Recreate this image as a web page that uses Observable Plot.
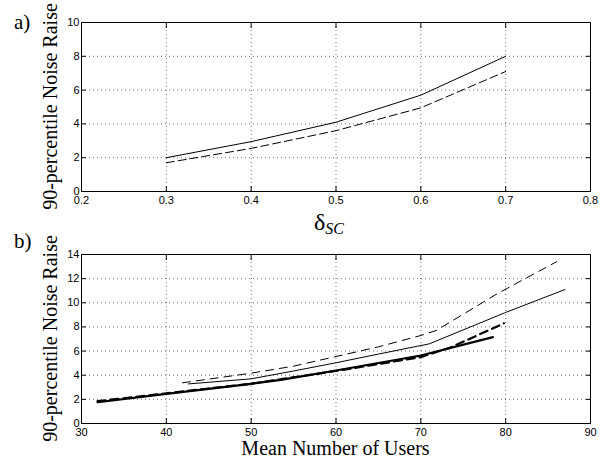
<!DOCTYPE html>
<html>
<head>
<meta charset="utf-8">
<script src="https://cdn.jsdelivr.net/npm/d3@7"></script>
<script src="https://cdn.jsdelivr.net/npm/@observablehq/plot@0.6"></script>
<style>
  body { margin: 0; background: white; }
  #wrap { position: relative; width: 610px; height: 463px; background: white; }
  #wrap svg { position: absolute; left: 0; overflow: visible; background: transparent; }
</style>
</head>
<body>
<div id="wrap"></div>
<script>
// ---- Panel a data ----
const deltaSC = [0.3, 0.4, 0.5, 0.6, 0.7];
const solidA = [2.0, 2.95, 4.1, 5.7, 8.0];
const dashedA = [1.7, 2.55, 3.6, 4.95, 7.1];
const xTicksA = [0.2, 0.3, 0.4, 0.5, 0.6, 0.7, 0.8];
const yTicksA = [0, 2, 4, 6, 8, 10];

// ---- Panel b data ----
const thinDashedUsers = [41.9, 50, 55, 60, 65, 70, 71.8, 79, 86];
const thinDashedRaise = [3.37, 4.17, 4.75, 5.55, 6.35, 7.29, 7.7, 10.75, 13.4];
const thinSolidUsers = [42.6, 50, 55, 60, 65, 71, 80, 87];
const thinSolidRaise = [3.28, 3.7, 4.35, 5.03, 5.75, 6.6, 9.2, 11.1];
const thickSolidUsers = [31.9, 40, 50, 53.5, 60, 70, 78.5];
const thickSolidRaise = [1.76, 2.46, 3.29, 3.62, 4.39, 5.63, 7.15];
const thickDashedUsers = [31.9, 40, 50, 60, 70, 73.5, 79.8];
const thickDashedRaise = [1.85, 2.5, 3.3, 4.35, 5.5, 6.3, 8.3];
const xTicksB = [30, 40, 50, 60, 70, 80, 90];
const yTicksB = [0, 2, 4, 6, 8, 10, 12, 14];

const yLabel = "90-percentile Noise Raise";
const xLabelB = "Mean Number of Users";

const pairs = (xs, ys) => xs.map((x, i) => ({x, y: ys[i]}));

const tickFont = "Liberation Sans, Arial, sans-serif";
const serif = "Liberation Serif, Times New Roman, serif";

function frameMarks(xt, yt, xfmt) {
  return [
    Plot.gridX(xt, {stroke: "#000", strokeOpacity: 0.55, strokeDasharray: "1,3"}),
    Plot.gridY(yt, {stroke: "#000", strokeOpacity: 0.55, strokeDasharray: "1,3"}),
    // labels
    Plot.axisX(xt, {anchor: "bottom", tickSize: 0, tickPadding: 5, tickFormat: xfmt, label: null, fontSize: 11, fontFamily: tickFont}),
    Plot.axisY(yt, {anchor: "left", tickSize: 0, tickPadding: 2, label: null, fontSize: 11, fontFamily: tickFont}),
    // inward ticks on all four sides
    Plot.axisX(xt, {anchor: "bottom", tickSize: 5, dy: -5, tickFormat: () => "", label: null}),
    Plot.axisX(xt, {anchor: "top", tickSize: 5, dy: 5, tickFormat: () => "", label: null}),
    Plot.axisY(yt, {anchor: "left", tickSize: 5, dx: 5, tickFormat: () => "", label: null}),
    Plot.axisY(yt, {anchor: "right", tickSize: 5, dx: -5, tickFormat: () => "", label: null}),
    Plot.frame({stroke: "#000", strokeWidth: 1})
  ];
}

const plotA = Plot.plot({
  width: 610, height: 230,
  marginLeft: 81, marginRight: 20, marginTop: 22, marginBottom: 39,
  x: {domain: [0.2, 0.8]},
  y: {domain: [0, 10]},
  style: {overflow: "visible", background: "transparent"},
  marks: [
    ...frameMarks(xTicksA, yTicksA, d3.format(".1f")),
    Plot.line(pairs(deltaSC, solidA), {x: "x", y: "y", stroke: "#000", strokeWidth: 1}),
    Plot.line(pairs(deltaSC, dashedA), {x: "x", y: "y", stroke: "#000", strokeWidth: 1, strokeDasharray: "8,4"})
  ]
});

const plotB = Plot.plot({
  width: 610, height: 233,
  marginLeft: 81, marginRight: 20, marginTop: 24, marginBottom: 40,
  x: {domain: [30, 90]},
  y: {domain: [0, 14]},
  style: {overflow: "visible", background: "transparent"},
  marks: [
    ...frameMarks(xTicksB, yTicksB, d3.format("d")),
    Plot.line(pairs(thinDashedUsers, thinDashedRaise), {x: "x", y: "y", stroke: "#000", strokeWidth: 1, strokeDasharray: "8,6"}),
    Plot.line(pairs(thinSolidUsers, thinSolidRaise), {x: "x", y: "y", stroke: "#000", strokeWidth: 1}),
    Plot.line(pairs(thickDashedUsers, thickDashedRaise), {x: "x", y: "y", stroke: "#000", strokeWidth: 2.2, strokeDasharray: "8,5"}),
    Plot.line(pairs(thickSolidUsers, thickSolidRaise), {x: "x", y: "y", stroke: "#000", strokeWidth: 2.2})
  ]
});

const wrap = document.getElementById("wrap");
plotA.style.top = "0px";
plotB.style.top = "230px";
wrap.appendChild(plotA);
wrap.appendChild(plotB);

// Text annotations (real SVG text)
function addText(svg, txt, x, y, opts = {}) {
  const t = d3.select(svg).append("text")
    .attr("x", x).attr("y", y)
    .attr("font-family", serif)
    .attr("font-size", opts.size || 20)
    .attr("fill", "#000")
    .attr("text-anchor", opts.anchor || "start")
    .text(txt);
  if (opts.rotate) t.attr("transform", `rotate(${opts.rotate},${x},${y})`);
  return t;
}

addText(plotA, "a)", 14, 29, {size: 21});
addText(plotA, yLabel, 57, 106.5, {anchor: "middle", rotate: -90, size: 20});
// δ_SC
const dl = d3.select(plotA).append("text")
  .attr("x", 314).attr("y", 230)
  .attr("text-anchor", "start")
  .attr("font-family", serif).attr("font-size", 24).attr("fill", "#000");
dl.append("tspan").text("δ");
dl.append("tspan").attr("font-size", 16).attr("font-style", "italic").attr("dy", 4).text("SC");

addText(plotB, "b)", 14, 18, {size: 21});
addText(plotB, yLabel, 57, 108.5, {anchor: "middle", rotate: -90, size: 20});
addText(plotB, xLabelB, 335.5, 225, {anchor: "middle", size: 20});
</script>
</body>
</html>
